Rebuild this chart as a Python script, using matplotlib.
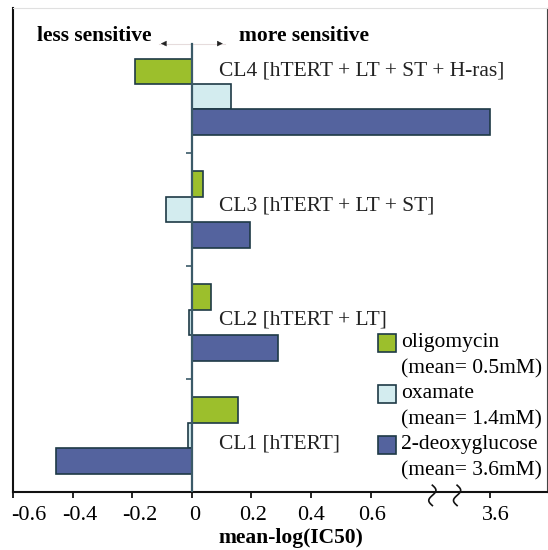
import numpy as np
import matplotlib
matplotlib.use('Agg')
import matplotlib.pyplot as plt
import matplotlib.transforms as mtransforms
from matplotlib.patches import Rectangle

# data (CL1 .. CL4), mean-log(IC50)
cell_lines = ['CL1 [hTERT]', 'CL2 [hTERT + LT]', 'CL3 [hTERT + LT + ST]',
              'CL4 [hTERT + LT + ST + H-ras]']
oligomycin = [0.155, 0.066, 0.037, -0.19]
oxamate = [-0.014, -0.009, -0.085, 0.13]
deoxyglucose = [-0.457, 0.29, 0.195, 3.6]
series_names = ['oligomycin', 'oxamate', '2-deoxyglucose']
series_means = ['(mean= 0.5mM)', '(mean= 1.4mM)', '(mean= 3.6mM)']
tick_values = [-0.6, -0.4, -0.2, 0, 0.2, 0.4, 0.6, 3.6]
tick_labels = ['-0.6', '-0.4', '-0.2', '0', '0.2', '0.4', '0.6', '3.6']

colors = ['#9cbf2c', '#d3ecef', '#54639e']
edge = '#1e3a46'
BREAK = 0.8
GAP = 2.6


def disp(v):
    """map real value to broken axis position"""
    v = np.asarray(v, dtype=float)
    return np.where(v > BREAK, v - GAP, v)


plt.rcParams['font.family'] = ['Liberation Serif', 'DejaVu Serif']

fig = plt.figure(figsize=(5.48, 5.5), dpi=100)
ax_w = 533.5
ax_h = 484.0
ax = fig.add_axes([13 / 548, 1 - 492 / 550, ax_w / 548, ax_h / 550])

y = np.arange(len(cell_lines))
h = 0.225
for vals, off, c in zip([oligomycin, oxamate, deoxyglucose], [h, 0, -h], colors):
    ax.barh(y + off, disp(vals), height=h, color=c, edgecolor=edge, linewidth=1.2, zorder=3)

ax.set_xlim(-0.6, 1.19)
ax.set_ylim(-0.5, 3.785)

# zero line with small category ticks
ax.plot([0, 0], [-0.5, 3.47], color='#3b5a68', lw=1.6, zorder=4)
ax.plot([0, 0, 0], [0.5, 1.5, 2.5], ls='none', marker=0, ms=4, mew=1.2, color='#3b5a68', zorder=4)

# cell line labels
label_dy = [-0.075, 0.02, 0.03, 0.226]
for yi, lab, dy in zip(y, cell_lines, label_dy):
    ax.text(0.09, yi + dy, lab, fontsize=15.5, va='center', ha='left', color='#222222', zorder=5)

# sensitivity arrows
ax.plot([-0.11, 0.11], [3.47, 3.47], color='#e6dcdc', lw=0.8, zorder=2)
ax.annotate('', xy=(-0.113, 3.47), xytext=(-0.09, 3.47),
            arrowprops=dict(arrowstyle='-|>', color='#222222', lw=0.3, mutation_scale=9))
ax.annotate('', xy=(0.113, 3.47), xytext=(0.09, 3.47),
            arrowprops=dict(arrowstyle='-|>', color='#222222', lw=0.3, mutation_scale=9))
ax.text(-0.135, 3.54, 'less sensitive', fontsize=15.5, fontweight='bold', ha='right', va='center')
ax.text(0.157, 3.54, 'more sensitive', fontsize=15.5, fontweight='bold', ha='left', va='center')

# axes styling
ax.set_xticks(disp(tick_values))
ax.set_xticklabels(tick_labels, fontsize=16)
ax.set_yticks([])
ax.tick_params(axis='x', direction='out', length=4, width=1.2, pad=6)
shifts = [16, 7, 8, 3, 2, 0, 1, 6]
for lab, dx in zip(ax.get_xticklabels(), shifts):
    lab.set_transform(lab.get_transform() + mtransforms.ScaledTranslation(dx / 100, 0, fig.dpi_scale_trans))
ax.set_xlabel('mean-log(IC50)', fontsize=15.5, fontweight='bold', labelpad=3)
ax.xaxis.set_label_coords(0.52, -0.075)
for s in ['left', 'bottom']:
    ax.spines[s].set_linewidth(1.5)
    ax.spines[s].set_color('#111111')
ax.spines['top'].set_color('#e0e0e0')
ax.spines['right'].set_color('#444444')

# axis break squiggles
t = np.linspace(-1, 1, 40)
for xb in [0.807, 0.89]:
    ax.plot(xb + 0.012 * np.sin(t * np.pi), -0.5 + 0.09 * t - 0.03, color='#111111', lw=1.2,
            clip_on=False, zorder=6)

# legend drawn by hand
for i, (name, mean, c) in enumerate(zip(series_names, series_means, colors)):
    yc = 343 + 51 * i
    fy = (492 - yc) / ax_h
    ax.add_patch(Rectangle(((378 - 13) / ax_w, fy - 9 / ax_h), 18 / ax_w, 18 / ax_h,
                           transform=ax.transAxes, facecolor=c, edgecolor=edge, lw=1.2,
                           clip_on=False, zorder=6))
    ax.text((401 - 13) / ax_w, fy, name, transform=ax.transAxes, fontsize=15.5,
            va='center', ha='left', zorder=6)
    ax.text((401 - 13) / ax_w, fy - 26 / ax_h, mean, transform=ax.transAxes, fontsize=15.5,
            va='center', ha='left', zorder=6)

fig.savefig('out.png', dpi=100)
